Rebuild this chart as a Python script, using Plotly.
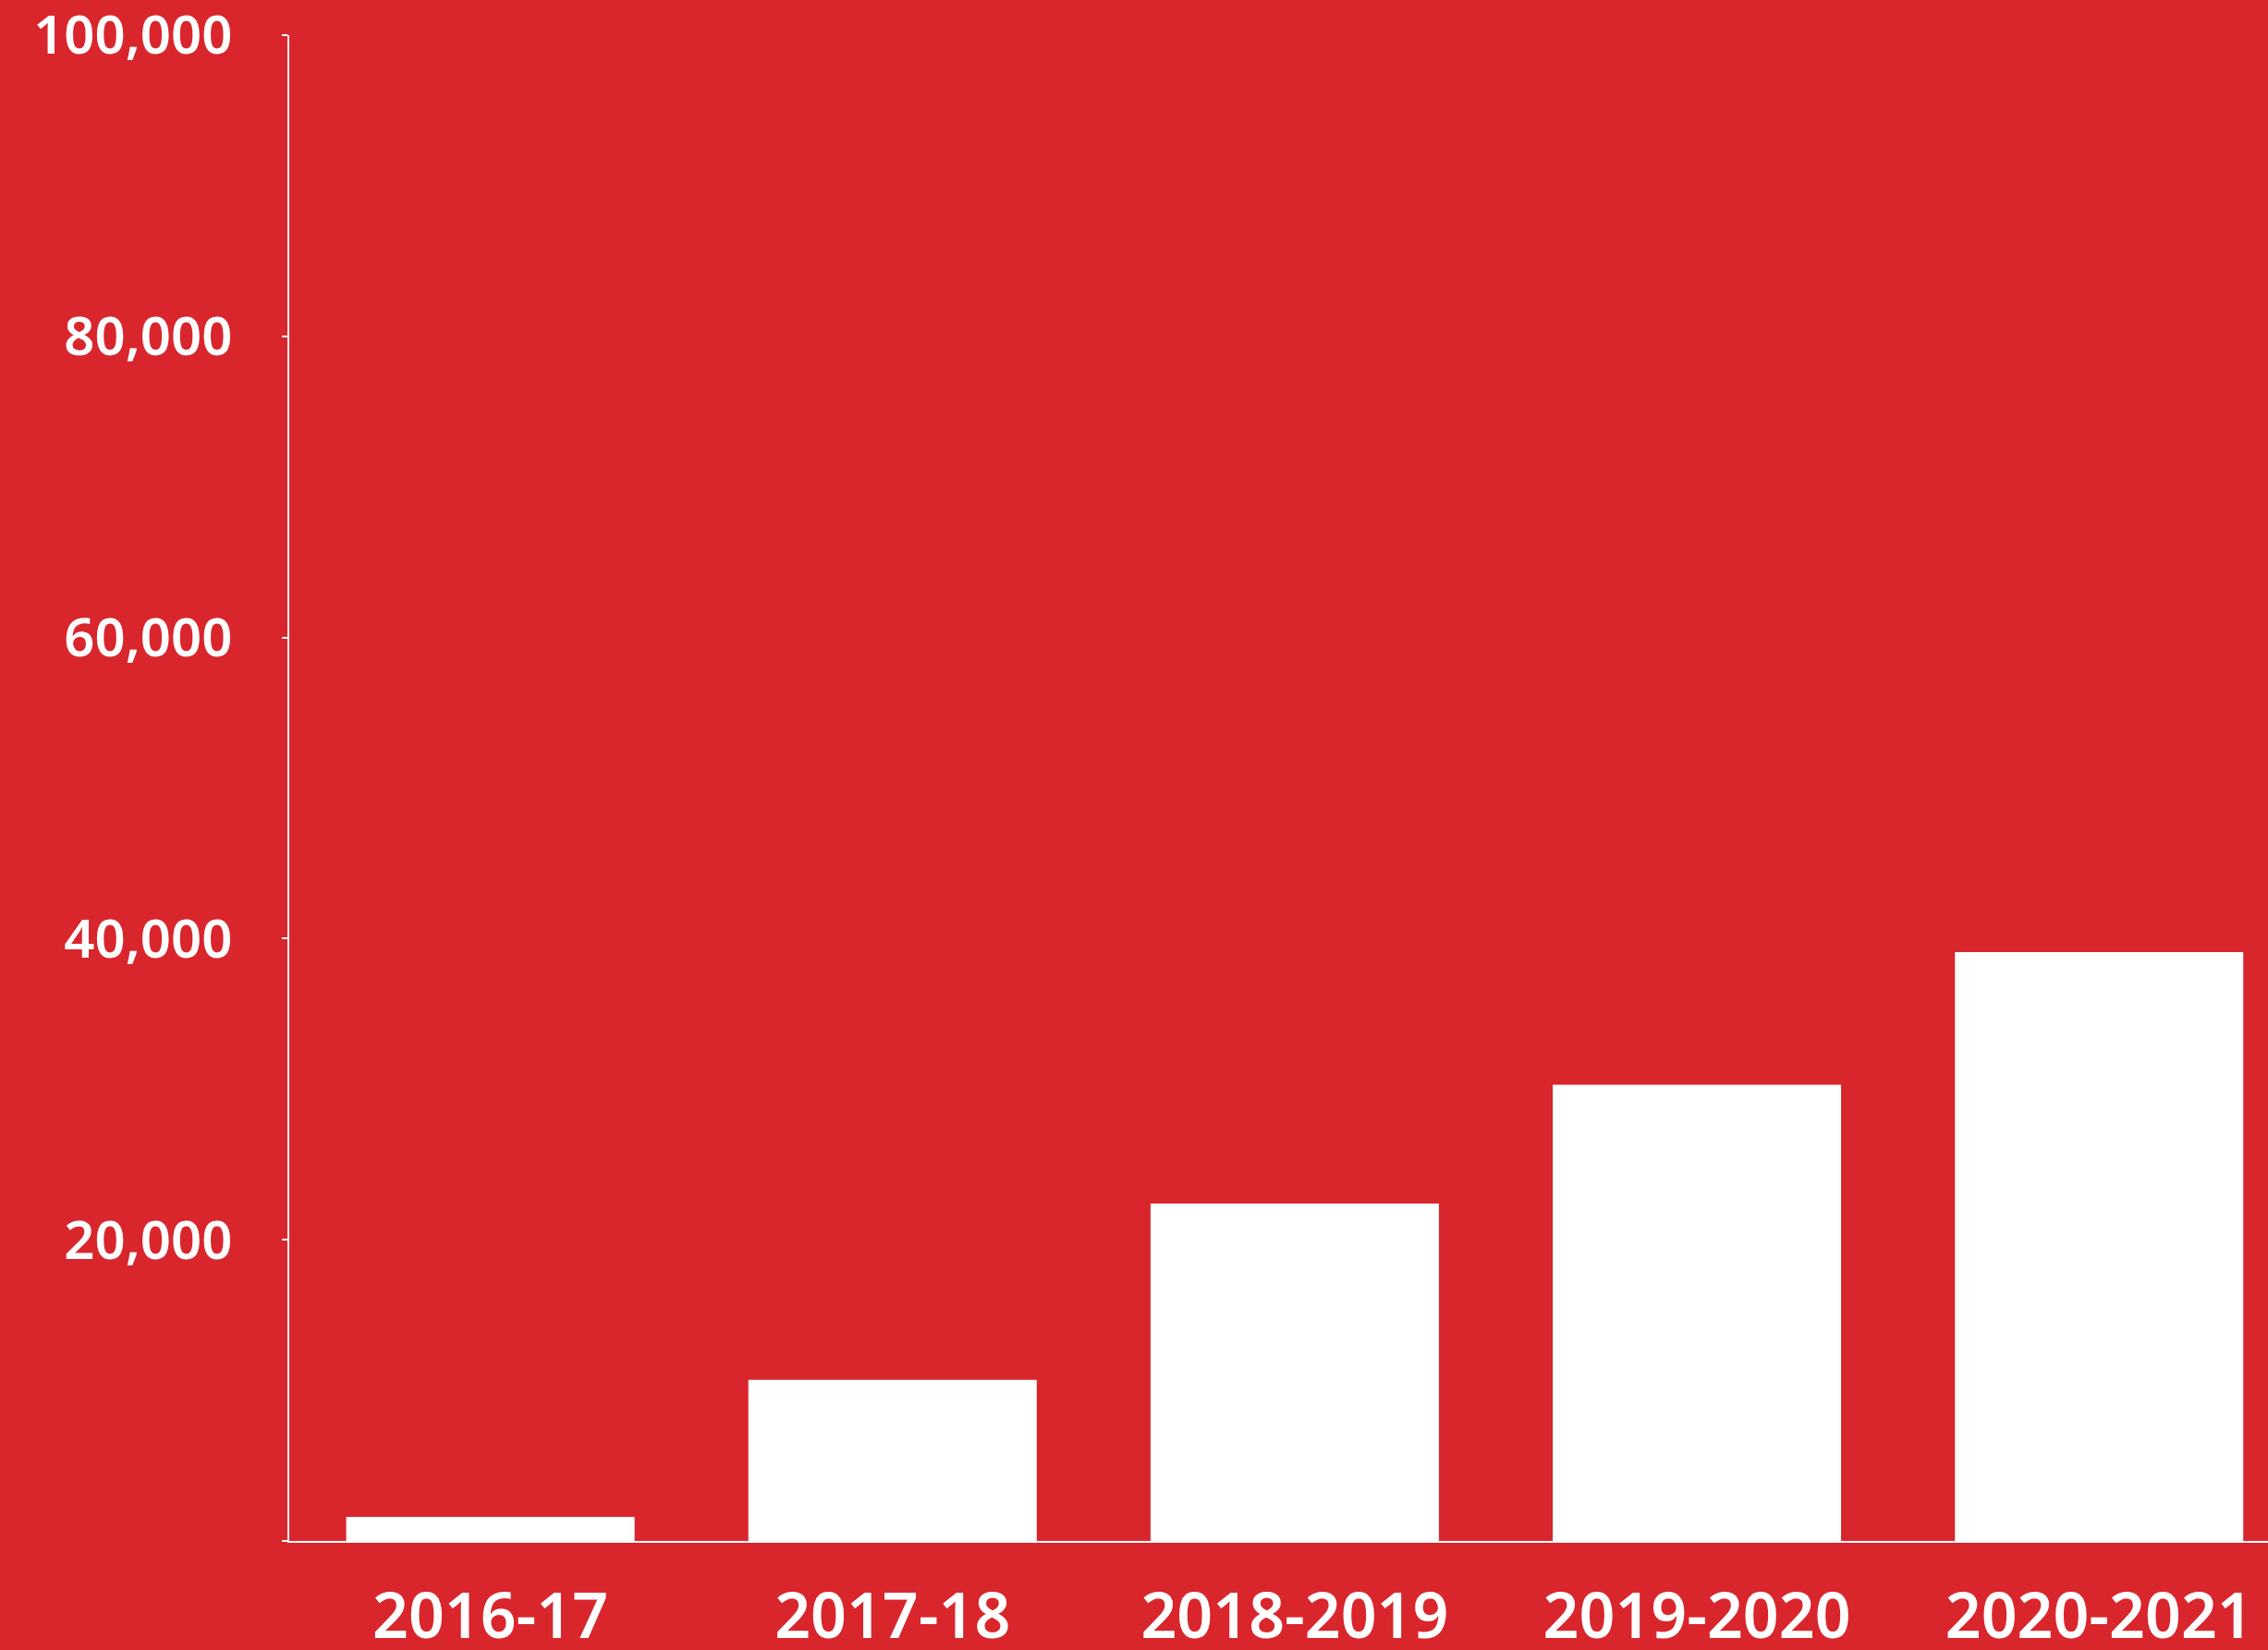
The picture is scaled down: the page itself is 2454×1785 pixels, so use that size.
import plotly.graph_objects as go

categories = ["2016-17", "2017-18", "2018-2019", "2019-2020", "2020-2021"]
values = [1600, 10700, 22400, 30300, 39100]
y_tickvals = [0, 20000, 40000, 60000, 80000, 100000]
y_ticktext = ["", "20,000", "40,000", "60,000", "80,000", "100,000"]

BG = "#D8262C"
FONT = "Noto Sans"

fig = go.Figure(
    go.Bar(
        x=categories,
        y=values,
        marker=dict(color="white", line=dict(width=0)),
        width=0.717,
    )
)

fig.update_layout(
    width=2454,
    height=1785,
    paper_bgcolor=BG,
    plot_bgcolor=BG,
    margin=dict(l=313, r=0, t=38, b=118, autoexpand=False),
    showlegend=False,
    font=dict(family=FONT, color="white"),
)

fig.update_xaxes(
    type="category",
    range=[-0.5, 4.42],
    automargin=False,
    showgrid=False,
    showline=True,
    linecolor="white",
    linewidth=2,
    ticks="",
    tickfont=dict(family=FONT, size=68, color="white", weight=600),
    ticklabelstandoff=21,
    ticklabeloverflow="allow",
)

fig.update_yaxes(
    range=[0, 100000],
    automargin=False,
    tickvals=y_tickvals,
    ticktext=y_ticktext,
    showgrid=False,
    zeroline=False,
    showline=True,
    linecolor="white",
    linewidth=2,
    ticks="outside",
    ticklen=6,
    tickwidth=2,
    tickcolor="white",
    tickfont=dict(family=FONT, size=58, color="white", weight=600),
    ticklabelstandoff=42,
    ticklabeloverflow="allow",
)

fig.write_html(
    "out.html",
    config={"displayModeBar": False},
    post_script="document.body.style.margin='0';document.body.style.background='" + BG + "';",
)
